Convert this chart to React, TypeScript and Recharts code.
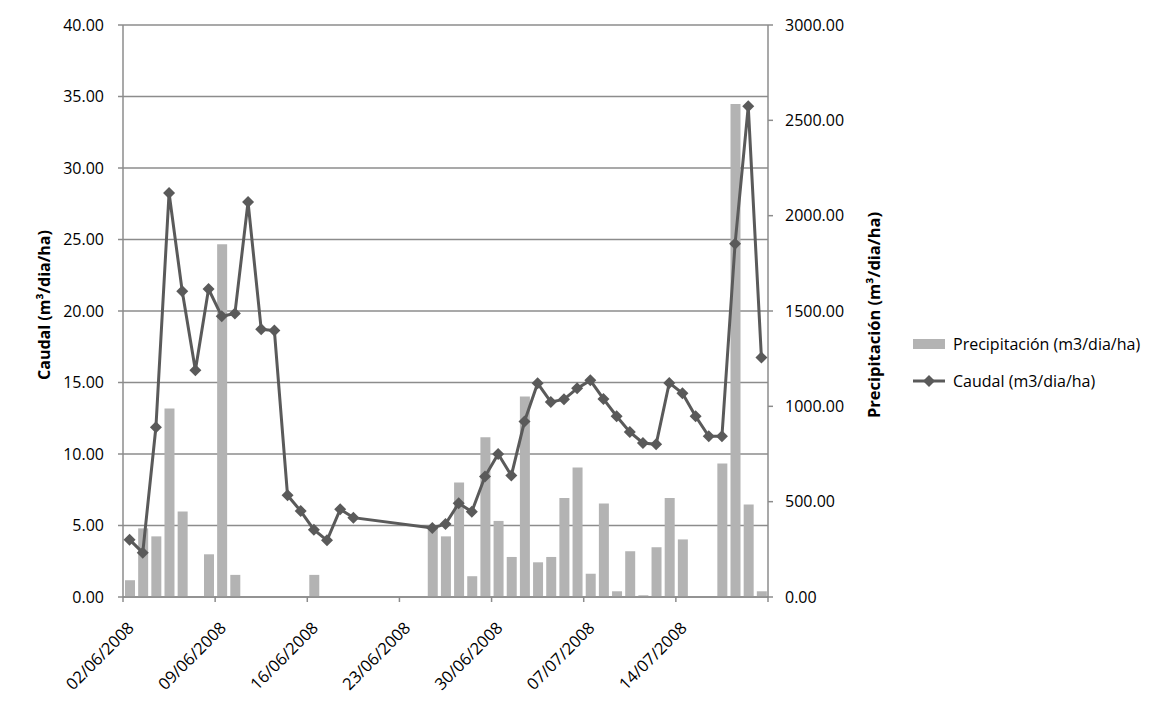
import React from 'react';
import { ComposedChart, Bar, Line, XAxis, YAxis, CartesianGrid, Legend } from 'recharts';

// daily values, 02/06/2008 .. 20/07/2008 (49 days)
const caudal: (number | null)[] = [
  4.01, 3.1, 11.87, 28.25, 21.38, 15.85, 21.54, 19.63, 19.82, 27.62,
  18.72, 18.63, 7.11, 6.01, 4.71, 3.96, 6.13, 5.55, null, null,
  null, null, null, 4.83, 5.1, 6.55, 5.97, 8.42, 10.0, 8.49,
  12.27, 14.94, 13.64, 13.82, 14.59, 15.15, 13.85, 12.64, 11.54, 10.77,
  10.68, 14.97, 14.24, 12.64, 11.24, 11.24, 24.71, 34.31, 16.74,
];

const precipitacion: (number | null)[] = [
  88, 360, 318, 988, 448, null, 224, 1850, 116, null,
  null, null, null, null, 116, null, null, null, null, null,
  null, null, null, 368, 318, 600, 109, 838, 399, 210,
  1052, 182, 210, 519, 679, 122, 491, 30, 240, 9,
  261, 519, 302, null, null, 700, 2586, 485, 30,
];

const tickLabels = ['02/06/2008', '09/06/2008', '16/06/2008', '23/06/2008', '30/06/2008', '07/07/2008', '14/07/2008'];
const xTicks = [0, 7, 14, 21, 28, 35, 42, 49];
const leftTicks = [0, 5, 10, 15, 20, 25, 30, 35, 40];
const rightTicks = [0, 500, 1000, 1500, 2000, 2500, 3000];

const data = caudal.map((c, i) => ({ dia: i + 0.5, caudal: c, precipitacion: precipitacion[i] }));

const FONT = '"Open Sans", sans-serif';
const GRID = '#8c8c8c';
const BAR = '#b3b3b3';
const LINE = '#5a5a5a';

const Diamond = (props: any) => {
  const { cx, cy, index } = props;
  if (cx == null || cy == null || props.value == null) return <g key={index} />;
  const r = 6;
  return <path key={index} d={`M${cx},${cy - r}L${cx + r},${cy}L${cx},${cy + r}L${cx - r},${cy}Z`} fill={LINE} />;
};

const DateTick = (props: any) => {
  const { x, y, payload } = props;
  const label = tickLabels[payload.value / 7] || '';
  return (
    <g transform={`translate(${x + 12},${y + 25})`}>
      <text textAnchor="end" transform="rotate(-45)" fontSize={16.5} fill="#000">{label}</text>
    </g>
  );
};

const LegendBox = () => (
  <div style={{ fontFamily: FONT, fontSize: 16, color: '#000', lineHeight: '20px' }}>
    <div style={{ display: 'flex', alignItems: 'center', height: 20 }}>
      <svg width={40} height={20}><rect x={0} y={5} width={32} height={10} fill={BAR} /></svg>
      <span>Precipitación (m3/dia/ha)</span>
    </div>
    <div style={{ display: 'flex', alignItems: 'center', height: 20, marginTop: 17 }}>
      <svg width={40} height={20}>
        <line x1={0} y1={10} x2={32} y2={10} stroke={LINE} strokeWidth={3} />
        <path d="M16,4L22,10L16,16L10,10Z" fill={LINE} />
      </svg>
      <span>Caudal (m3/dia/ha)</span>
    </div>
  </div>
);

export default function App() {
  return (
    <div style={{ position: 'relative', width: 1150, height: 690, fontFamily: FONT }}>
      <div style={{ position: 'absolute', left: -2, top: -3, width: 1150, height: 700, boxSizing: 'border-box', borderTop: `2px solid ${GRID}`, borderLeft: `2px solid ${GRID}` }} />
      <ComposedChart width={1150} height={690} data={data} margin={{ top: 17, right: 280, bottom: 41, left: 0 }}>
        <CartesianGrid yAxisId="left" vertical={false} stroke={GRID} strokeWidth={1.5} />
        <XAxis
          dataKey="dia"
          type="number"
          domain={[0, 49]}
          ticks={xTicks}
          interval={0}
          tick={<DateTick />}
          tickSize={5}
          height={60}
          stroke={GRID}
          strokeWidth={1.5}
        />
        <YAxis
          yAxisId="left"
          domain={[0, 40]}
          ticks={leftTicks}
          interval={0}
          width={115}
          tickSize={5}
          tickMargin={14}
          stroke={GRID}
          strokeWidth={1.5}
          tick={{ fill: '#000', fontSize: 16 }}
          tickFormatter={(v: number) => v.toFixed(2)}
          label={(p: any) => {
            const vb = p.viewBox;
            const x = vb.x + 42;
            const y = vb.y + vb.height / 2 - 6;
            return (
              <text x={x} y={y} transform={`rotate(-90 ${x} ${y})`} textAnchor="middle" fontWeight="bold" fontSize={16} fill="#000">
                Caudal (m³/dia/ha)
              </text>
            );
          }}
        />
        <YAxis
          yAxisId="right"
          orientation="right"
          domain={[0, 3000]}
          ticks={rightTicks}
          interval={0}
          width={110}
          tickSize={5}
          tickMargin={12}
          stroke={GRID}
          strokeWidth={1.5}
          tick={{ fill: '#000', fontSize: 16, textAnchor: 'start' }}
          tickFormatter={(v: number) => v.toFixed(2)}
          label={(p: any) => {
            const vb = p.viewBox;
            const x = vb.x + 112;
            const y = vb.y + vb.height / 2 + 4;
            return (
              <text x={x} y={y} transform={`rotate(-90 ${x} ${y})`} textAnchor="middle" fontWeight="bold" fontSize={16.5} fill="#000">
                Precipitación (m³/dia/ha)
              </text>
            );
          }}
        />
        <Bar yAxisId="right" dataKey="precipitacion" name="Precipitación (m3/dia/ha)" fill={BAR} barSize={10} isAnimationActive={false} />
        <Line
          yAxisId="left"
          dataKey="caudal"
          name="Caudal (m3/dia/ha)"
          type="linear"
          stroke={LINE}
          strokeWidth={3}
          dot={Diamond}
          activeDot={false}
          connectNulls
          isAnimationActive={false}
        />
        <Legend
          layout="vertical"
          align="center"
          verticalAlign="middle"
          content={<LegendBox />}
          wrapperStyle={{ left: 905, top: 326, width: 260 }}
        />
      </ComposedChart>
    </div>
  );
}
